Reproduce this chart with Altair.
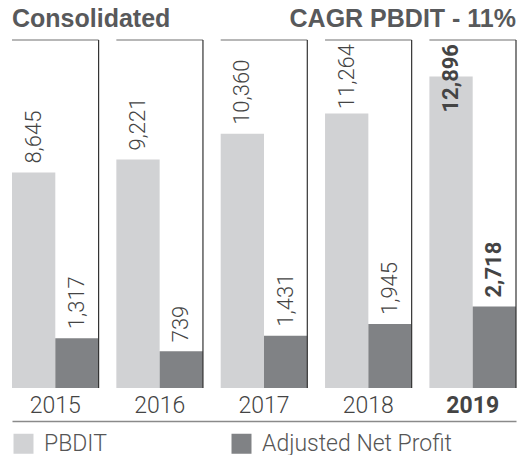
import altair as alt
import pandas as pd

years = ["2015", "2016", "2017", "2018", "2019"]
pbdit = [8645, 9221, 10360, 11264, 12896]
adj_net_profit = [1317, 739, 1431, 1945, 2718]
series = ["PBDIT", "Adjusted Net Profit"]
colors = ["#d1d2d4", "#808285"]
bold_year = "2019"
title_left = "Consolidated"
title_right = "CAGR PBDIT - 11%"
FIT_MAX = 11000  # labels of taller bars are pinned below the panel top
BAR_FLOOR = -885  # value at which the bars start (axis floor below zero)

rows = []
for i, y in enumerate(years):
    rows.append({"year": y, "series": series[0], "value": pbdit[i], "label": f"{pbdit[i]:,}"})
    rows.append({"year": y, "series": series[1], "value": adj_net_profit[i], "label": f"{adj_net_profit[i]:,}"})
df = pd.DataFrame(rows)
ydf = pd.DataFrame({"year": years})

W, H = 504, 381
BASE = 348  # pixel baseline of bars inside the plot

xsc = alt.Scale(domain=years, paddingInner=0.17, paddingOuter=0)
xaxis = alt.Axis(labels=False, ticks=False, title=None, domainColor="#8a8a8a", domainWidth=1.5, grid=False)
ysc = alt.Scale(domain=[-2345, 14513], zero=False, nice=False)
offsc = alt.Scale(domain=series, paddingInner=0, paddingOuter=0)
col = alt.Color("series:N", scale=alt.Scale(domain=series, range=colors),
                legend=alt.Legend(orient="none", legendX=0, legendY=392, direction="horizontal",
                                  title=None, symbolType="square", symbolSize=400,
                                  symbolStrokeWidth=0, symbolOpacity=1, labelFontSize=23,
                                  labelFont="Roboto", labelFontWeight=300, labelColor="#555555",
                                  labelOffset=9, columnPadding=123, padding=0, labelLimit=400))

base = alt.Chart(df)
bars = base.mark_bar(opacity=1).encode(
    x=alt.X("year:N", scale=xsc, axis=xaxis),
    xOffset=alt.XOffset("series:N", scale=offsc),
    y=alt.Y("value:Q", scale=ysc, axis=None),
    y2=alt.datum(BAR_FLOOR),
    color=col,
)


def labels(cond, weight, pinned):
    ch = base.transform_filter(cond)
    if pinned:
        ch = ch.transform_filter(alt.datum.value > FIT_MAX)
        return ch.mark_text(angle=270, align="right", baseline="middle", font="Roboto",
                            fontWeight=weight, fontSize=22, color="#444444").encode(
            x=alt.X("year:N", scale=xsc), xOffset=alt.XOffset("series:N", scale=offsc),
            y=alt.value(4), text="label:N")
    ch = ch.transform_filter(alt.datum.value <= FIT_MAX)
    return ch.mark_text(angle=270, align="left", baseline="middle", dx=9, font="Roboto",
                        fontWeight=weight, fontSize=22, color="#444444").encode(
        x=alt.X("year:N", scale=xsc), xOffset=alt.XOffset("series:N", scale=offsc),
        y=alt.Y("value:Q", scale=ysc), text="label:N")


lab_norm = labels(alt.datum.year != bold_year, 300, False)
lab_norm_p = labels(alt.datum.year != bold_year, 300, True)
lab_bold = labels(alt.datum.year == bold_year, "bold", False)
lab_bold_p = labels(alt.datum.year == bold_year, "bold", True)

ybase = alt.Chart(ydf)
top_line = ybase.mark_tick(thickness=1.2, color="#333333", orient="horizontal").encode(
    x=alt.X("year:N", scale=xsc), y=alt.value(0), size=alt.value(86.6))
right_line = ybase.mark_rule(color="#333333", strokeWidth=1.2).encode(
    x=alt.X("year:N", scale=xsc, bandPosition=1), y=alt.value(0), y2=alt.value(BASE))

yl_norm = ybase.transform_filter(alt.datum.year != bold_year).mark_text(
    font="Roboto", fontWeight=300, fontSize=23, color="#444444", baseline="middle"
).encode(x=alt.X("year:N", scale=xsc), y=alt.value(365.5), text="year:N")
yl_bold = ybase.transform_filter(alt.datum.year == bold_year).mark_text(
    font="Roboto", fontWeight="bold", fontSize=23, color="#444444", baseline="middle"
).encode(x=alt.X("year:N", scale=xsc), y=alt.value(365.5), text="year:N")

t_left = alt.Chart(pd.DataFrame({"t": [title_left]})).mark_text(
    font="Liberation Sans", fontWeight="bold", fontSize=25, color="#58595b",
    align="left", baseline="alphabetic").encode(x=alt.value(0), y=alt.value(-13), text="t:N")
t_right = alt.Chart(pd.DataFrame({"t": [title_right]})).mark_text(
    font="Liberation Sans", fontWeight="bold", fontSize=25, color="#58595b",
    align="right", baseline="alphabetic").encode(x=alt.value(W), y=alt.value(-13), text="t:N")

chart = alt.layer(bars, top_line, right_line, lab_norm, lab_norm_p, lab_bold, lab_bold_p,
                  yl_norm, yl_bold, t_left, t_right).properties(
    width=W, height=H,
    padding={"left": 4, "top": 32, "right": 1, "bottom": 34},
    autosize=alt.AutoSizeParams(type="none"),
).configure_view(stroke=None)

chart.save("out.html", embed_options={"renderer": "svg", "actions": False})
